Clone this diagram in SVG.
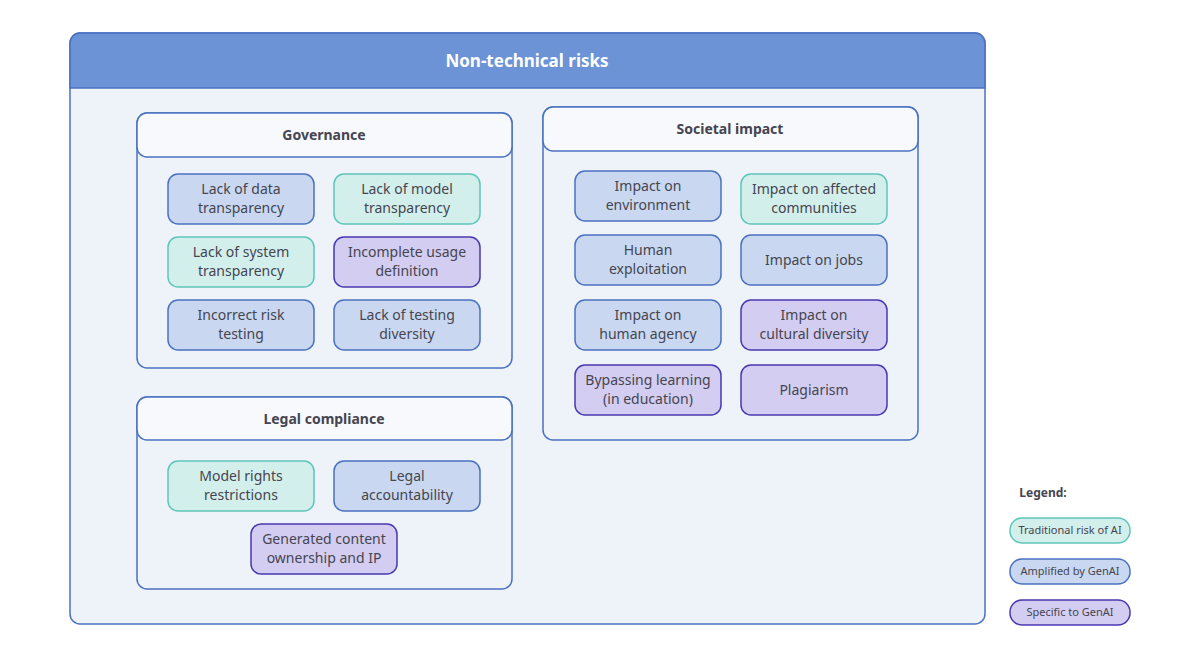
<svg xmlns="http://www.w3.org/2000/svg" width="1200" height="655" viewBox="0 0 1200 655">
<style>
text{font-family:"Noto Sans","Open Sans",sans-serif;fill:#454550;text-anchor:middle}
.n{font-size:14px}
.h{font-size:14px;font-weight:bold}
.lg{font-size:11px}
.t{fill:#d3efec;stroke:#5ec6b9;stroke-width:1.5}
.b{fill:#c9d8f0;stroke:#4a72c0;stroke-width:1.5}
.p{fill:#d3cdf1;stroke:#4939b0;stroke-width:1.5}
.grp{fill:none;stroke:#4a72c0;stroke-width:1.5}
.gh{fill:#f8f9fc;stroke:#4a72c0;stroke-width:1.5}
</style>
<rect width="1200" height="655" fill="#fff"/>
<g id="main">
<rect x="70" y="33" width="915" height="591" rx="10" fill="#eef2f9" stroke="#4a72c0" stroke-width="1.5"/>
<path d="M70,88 V43 a10,10 0 0 1 10,-10 H975 a10,10 0 0 1 10,10 V88 Z" fill="#6b93d6" stroke="#4a72c0" stroke-width="1.5"/>
<text x="527" y="67" style="font-size:17px;font-weight:bold;fill:#fff">Non-technical risks</text>
</g>
<g id="governance">
<rect class="grp" x="137" y="113" width="375" height="255" rx="10"/>
<rect class="gh" x="137" y="113" width="375" height="44" rx="10"/>
<text class="h" x="324" y="140">Governance</text>
</g>
<g id="societal">
<rect class="grp" x="543" y="107" width="375" height="333" rx="10"/>
<rect class="gh" x="543" y="107" width="375" height="44" rx="10"/>
<text class="h" x="730" y="134">Societal impact</text>
</g>
<g id="legal">
<rect class="grp" x="137" y="397" width="375" height="192" rx="10"/>
<rect class="gh" x="137" y="397" width="375" height="43" rx="10"/>
<text class="h" x="324" y="424">Legal compliance</text>
</g>
<g id="n1"><rect class="b" x="168" y="174" width="146" height="50" rx="10"/><text class="n" x="241" y="194">Lack of data</text><text class="n" x="241" y="213">transparency</text></g>
<g id="n2"><rect class="t" x="334" y="174" width="146" height="50" rx="10"/><text class="n" x="407" y="194">Lack of model</text><text class="n" x="407" y="213">transparency</text></g>
<g id="n3"><rect class="t" x="168" y="237" width="146" height="50" rx="10"/><text class="n" x="241" y="257">Lack of system</text><text class="n" x="241" y="276">transparency</text></g>
<g id="n4"><rect class="p" x="334" y="237" width="146" height="50" rx="10"/><text class="n" x="407" y="257">Incomplete usage</text><text class="n" x="407" y="276">definition</text></g>
<g id="n5"><rect class="b" x="168" y="300" width="146" height="50" rx="10"/><text class="n" x="241" y="320">Incorrect risk</text><text class="n" x="241" y="339">testing</text></g>
<g id="n6"><rect class="b" x="334" y="300" width="146" height="50" rx="10"/><text class="n" x="407" y="320">Lack of testing</text><text class="n" x="407" y="339">diversity</text></g>
<g id="n7"><rect class="b" x="575" y="171" width="146" height="50" rx="10"/><text class="n" x="648" y="191">Impact on</text><text class="n" x="648" y="210">environment</text></g>
<g id="n8"><rect class="t" x="741" y="174" width="146" height="50" rx="10"/><text class="n" x="814" y="194">Impact on affected</text><text class="n" x="814" y="213">communities</text></g>
<g id="n9"><rect class="b" x="575" y="235" width="146" height="50" rx="10"/><text class="n" x="648" y="255">Human</text><text class="n" x="648" y="274">exploitation</text></g>
<g id="n10"><rect class="b" x="741" y="235" width="146" height="50" rx="10"/><text class="n" x="814" y="265">Impact on jobs</text></g>
<g id="n11"><rect class="b" x="575" y="300" width="146" height="50" rx="10"/><text class="n" x="648" y="320">Impact on</text><text class="n" x="648" y="339">human agency</text></g>
<g id="n12"><rect class="p" x="741" y="300" width="146" height="50" rx="10"/><text class="n" x="814" y="320">Impact on</text><text class="n" x="814" y="339">cultural diversity</text></g>
<g id="n13"><rect class="p" x="575" y="365" width="146" height="50" rx="10"/><text class="n" x="648" y="385">Bypassing learning</text><text class="n" x="648" y="404">(in education)</text></g>
<g id="n14"><rect class="p" x="741" y="365" width="146" height="50" rx="10"/><text class="n" x="814" y="395">Plagiarism</text></g>
<g id="n15"><rect class="t" x="168" y="461" width="146" height="50" rx="10"/><text class="n" x="241" y="481">Model rights</text><text class="n" x="241" y="500">restrictions</text></g>
<g id="n16"><rect class="b" x="334" y="461" width="146" height="50" rx="10"/><text class="n" x="407" y="481">Legal</text><text class="n" x="407" y="500">accountability</text></g>
<g id="n17"><rect class="p" x="251" y="524" width="146" height="50" rx="10"/><text class="n" x="324" y="544">Generated content</text><text class="n" x="324" y="563">ownership and IP</text></g>
<g id="legend">
<text x="1043" y="497" style="font-size:12px;font-weight:bold">Legend:</text>
<rect class="t" x="1010" y="518" width="120" height="25" rx="12"/><text class="lg" x="1070" y="534">Traditional risk of AI</text>
<rect class="b" x="1010" y="559" width="120" height="25" rx="12"/><text class="lg" x="1070" y="575">Amplified by GenAI</text>
<rect class="p" x="1010" y="600" width="120" height="25" rx="12"/><text class="lg" x="1070" y="616">Specific to GenAI</text>
</g>
<g id="connectors"/>
</svg>
